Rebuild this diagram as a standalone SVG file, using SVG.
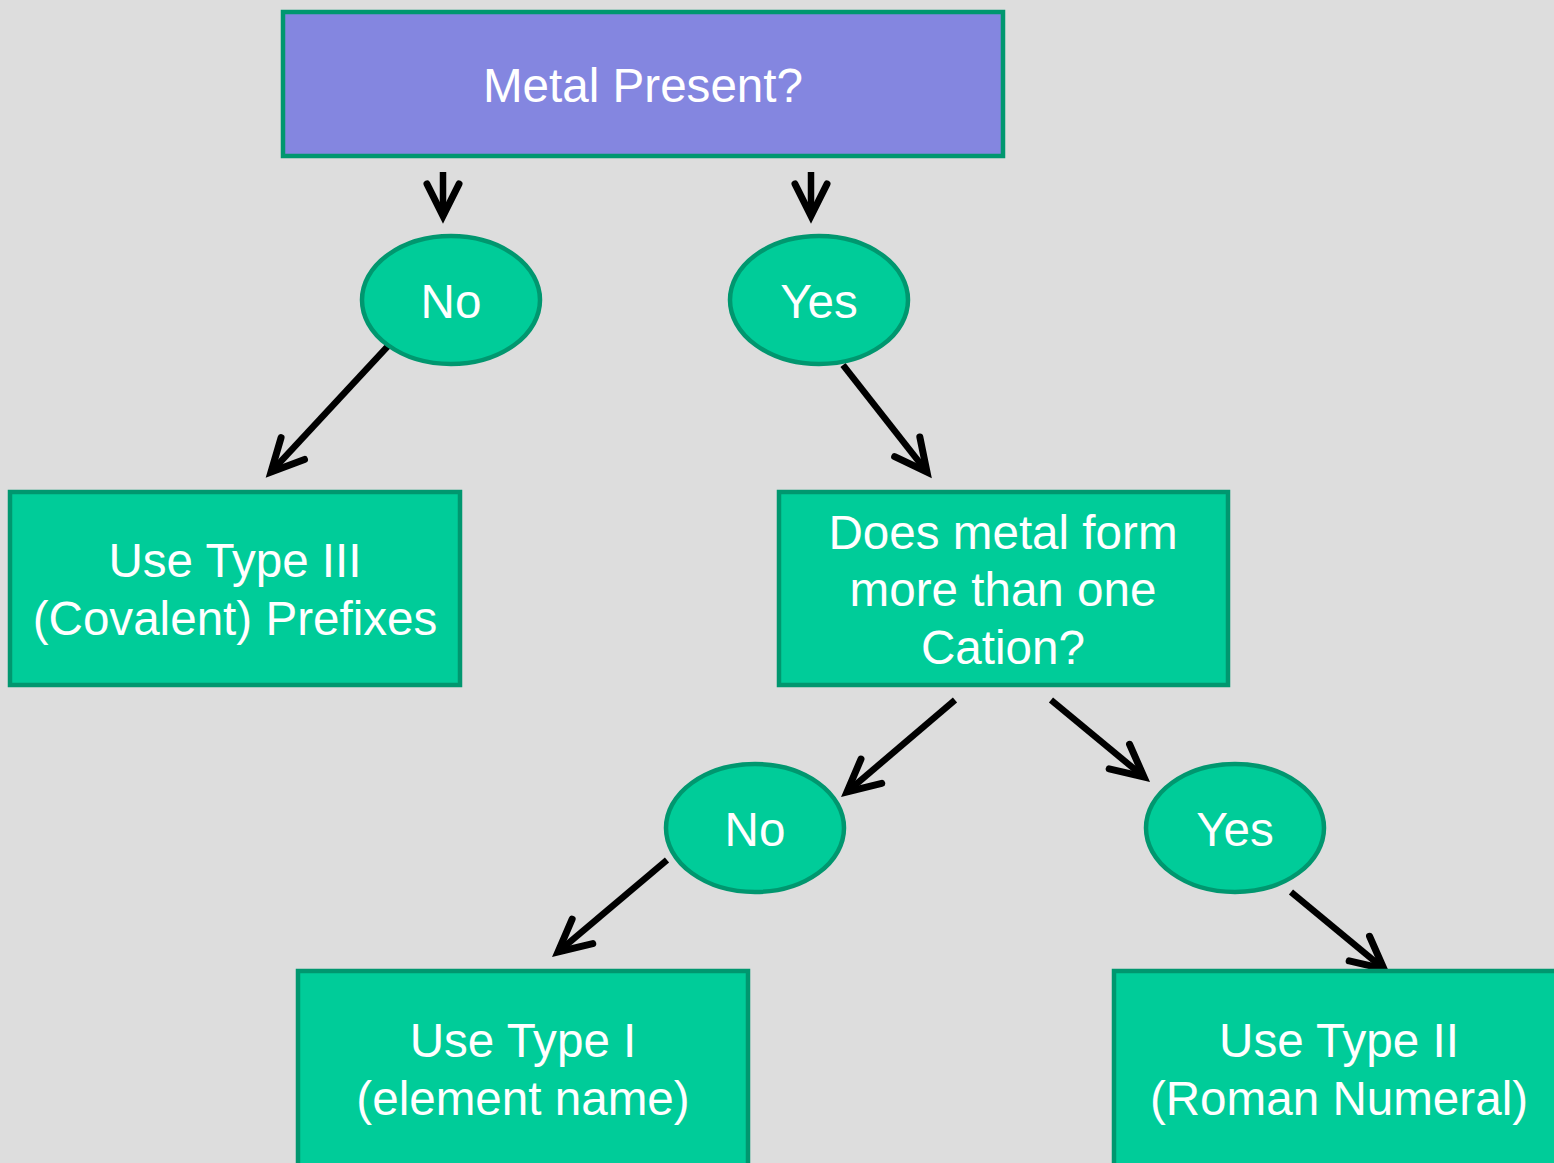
<svg xmlns="http://www.w3.org/2000/svg" width="1554" height="1163" viewBox="0 0 1554 1163">
<defs>
<style>
.box{fill:#00CC99;stroke:#00976F;stroke-width:4.5}
.top{fill:#8486E0;stroke:#00976F;stroke-width:4.5}
.t{fill:#FFFFFF;font-family:"Liberation Sans",Arial,sans-serif;font-size:47.6px;text-anchor:middle}
.c{fill:none;stroke:#000000;stroke-width:6.5;marker-end:url(#ah)}
</style>
<marker id="ah" markerUnits="userSpaceOnUse" viewBox="-40 -22 46 44" markerWidth="46" markerHeight="44" refX="0" refY="0" orient="auto" overflow="visible">
<path d="M-32,-16 L0,0 L-32,16" fill="none" stroke="#000000" stroke-width="7" stroke-linecap="round" stroke-linejoin="miter"/>
</marker>
</defs>
<rect width="1554" height="1163" fill="#DDDDDD"/>
<g id="connectors">
<line class="c" x1="443" y1="172" x2="443" y2="216"/>
<line class="c" x1="811" y1="172" x2="811" y2="216"/>
<line class="c" x1="388" y1="346" x2="271" y2="472"/>
<line class="c" x1="843" y1="365" x2="927" y2="472"/>
<line class="c" x1="955" y1="700" x2="847" y2="792"/>
<line class="c" x1="1051" y1="700" x2="1144" y2="777"/>
<line class="c" x1="667" y1="860" x2="558" y2="952"/>
<line class="c" x1="1291" y1="892" x2="1384" y2="969"/>
</g>
<g id="metal-present">
<rect class="top" x="283" y="12" width="720" height="144"/>
<text class="t" x="643" y="102">Metal Present?</text>
</g>
<g id="no1">
<ellipse class="box" cx="451" cy="300" rx="89" ry="64"/>
<text class="t" x="451" y="318">No</text>
</g>
<g id="yes1">
<ellipse class="box" cx="819" cy="300" rx="89" ry="64"/>
<text class="t" x="819" y="318">Yes</text>
</g>
<g id="type3">
<rect class="box" x="10" y="492" width="450" height="193"/>
<text class="t" x="235" y="577">Use Type III</text>
<text class="t" x="235" y="635">(Covalent) Prefixes</text>
</g>
<g id="more-than-one">
<rect class="box" x="779" y="492" width="449" height="193"/>
<text class="t" x="1003" y="549">Does metal form</text>
<text class="t" x="1003" y="606">more than one</text>
<text class="t" x="1003" y="664">Cation?</text>
</g>
<g id="no2">
<ellipse class="box" cx="755" cy="828" rx="89" ry="64"/>
<text class="t" x="755" y="846">No</text>
</g>
<g id="yes2">
<ellipse class="box" cx="1235" cy="828" rx="89" ry="64"/>
<text class="t" x="1235" y="846">Yes</text>
</g>
<g id="type1">
<rect class="box" x="298" y="971" width="450" height="200"/>
<text class="t" x="523" y="1057">Use Type I</text>
<text class="t" x="523" y="1115">(element name)</text>
</g>
<g id="type2">
<rect class="box" x="1114" y="971" width="450" height="200"/>
<text class="t" x="1339" y="1057">Use Type II</text>
<text class="t" x="1339" y="1115">(Roman Numeral)</text>
</g>
</svg>
